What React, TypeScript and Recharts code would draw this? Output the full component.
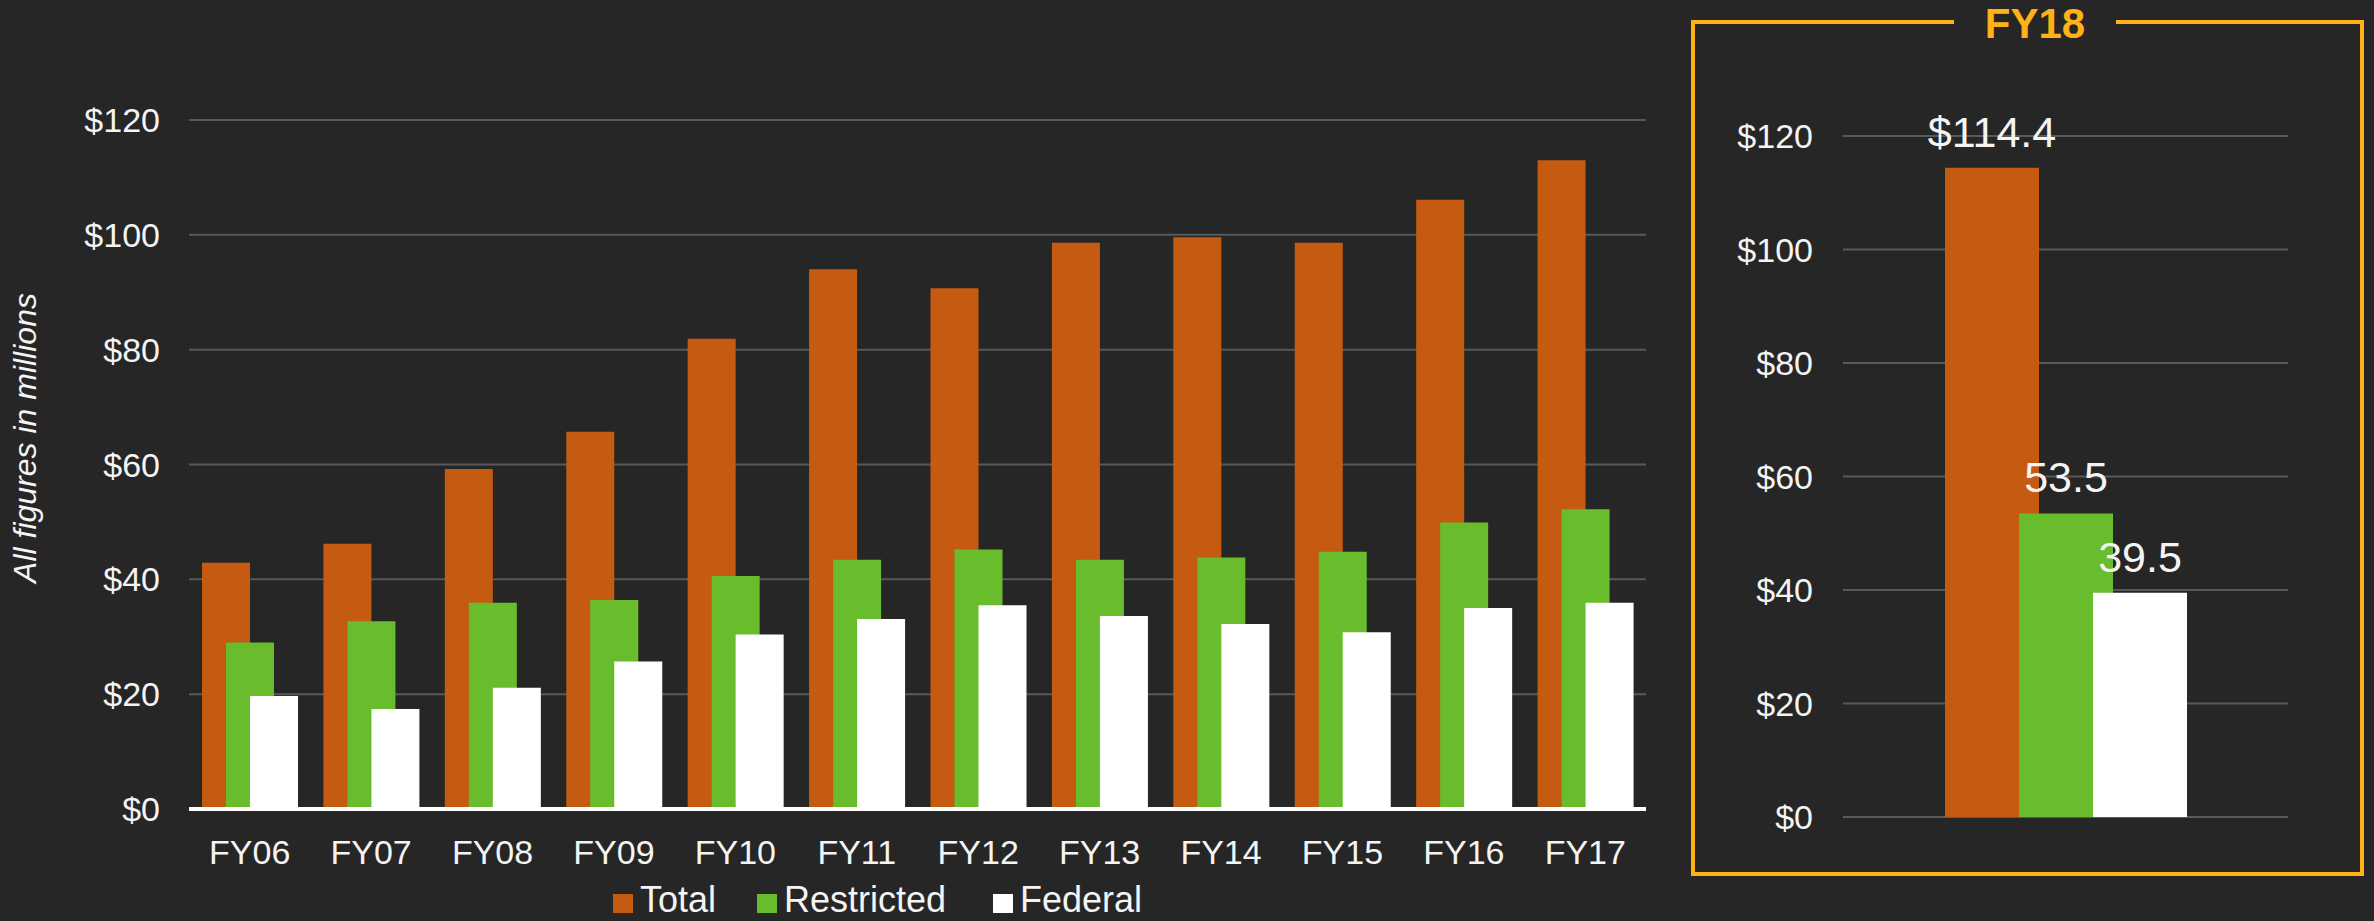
import { BarChart, Bar, XAxis, YAxis, CartesianGrid, LabelList } from 'recharts';

// Values (in $ millions)
const years = ['FY06', 'FY07', 'FY08', 'FY09', 'FY10', 'FY11', 'FY12', 'FY13', 'FY14', 'FY15', 'FY16', 'FY17'];
const totalValues = [42.9, 46.2, 59.2, 65.7, 81.9, 94.0, 90.7, 98.6, 99.6, 98.6, 106.1, 113.0];
const restrictedValues = [29.0, 32.7, 35.9, 36.4, 40.6, 43.4, 45.2, 43.4, 43.8, 44.8, 49.9, 52.2];
const federalValues = [19.7, 17.4, 21.1, 25.7, 30.4, 33.1, 35.5, 33.6, 32.2, 30.8, 35.0, 35.9];

const fy18Name = 'FY18';
const fy18Total = 114.4;
const fy18Restricted = 53.5;
const fy18Federal = 39.5;

const yTicks = [0, 20, 40, 60, 80, 100, 120];
const seriesNames = ['Total', 'Restricted', 'Federal'];
const yAxisTitle = 'All figures in millions';

const BG = '#262626';
const GRID = '#595959';
const TEXT = '#f4f4f4';
const AMBER = '#ffb218';
const seriesColors = ['#c55a11', '#69bc2b', '#ffffff'];
const FONT = '"Liberation Sans", Arial, sans-serif';

const history = years.map((year, i) => ({
  year,
  total: totalValues[i],
  restricted: restrictedValues[i],
  federal: federalValues[i],
}));

const latest = [{ year: fy18Name, total: fy18Total, restricted: fy18Restricted, federal: fy18Federal }];

const dollar = (v: number) => `$${v}`;

function Legend() {
  const lefts = [613, 757, 993];
  return (
    <>
      {seriesNames.map((name, i) => (
        <div
          key={name}
          style={{ position: 'absolute', left: lefts[i], top: 882, display: 'flex', alignItems: 'flex-start', whiteSpace: 'nowrap' }}
        >
          <span style={{ width: 20, height: 19, background: seriesColors[i], display: 'inline-block', marginRight: 7, marginTop: 12 }} />
          <span style={{ fontSize: 36, color: TEXT, lineHeight: '36px' }}>{name}</span>
        </div>
      ))}
    </>
  );
}

export default function App() {
  const tick = { fill: TEXT, fontSize: 34, fontFamily: FONT };
  return (
    <div style={{ position: 'fixed', left: 0, top: 0, width: 2374, height: 921, background: BG, overflow: 'hidden', fontFamily: FONT }}>
      {/* history chart */}
      <div style={{ position: 'absolute', left: 0, top: 0 }}>
        <BarChart
          width={1700}
          height={921}
          data={history}
          margin={{ top: 120, right: 54, bottom: 0, left: 0 }}
          barSize={48}
          barGap={-24}
        >
          <CartesianGrid vertical={false} stroke={GRID} strokeWidth={2} />
          <XAxis
            dataKey="year"
            height={112}
            tickLine={false}
            tickSize={0}
            tickMargin={31}
            axisLine={{ stroke: '#ffffff', strokeWidth: 4 }}
            tick={tick}
            interval={0}
          />
          <YAxis
            width={189}
            domain={[0, 120]}
            ticks={yTicks}
            tickFormatter={dollar}
            axisLine={false}
            tickLine={false}
            tickSize={0}
            tickMargin={29}
            tick={tick}
          />
          <Bar dataKey="total" fill={seriesColors[0]} isAnimationActive={false} />
          <Bar dataKey="restricted" fill={seriesColors[1]} isAnimationActive={false} />
          <Bar dataKey="federal" fill={seriesColors[2]} isAnimationActive={false} />
        </BarChart>
      </div>

      <div
        style={{
          position: 'absolute',
          left: 25,
          top: 438,
          transform: 'translate(-50%, -50%) rotate(-90deg)',
          whiteSpace: 'nowrap',
          fontStyle: 'italic',
          fontSize: 32,
          color: TEXT,
        }}
      >
        {yAxisTitle}
      </div>

      <Legend />

      {/* FY18 panel */}
      <div
        style={{
          position: 'absolute',
          left: 1691,
          top: 20,
          width: 2364 - 1691 - 8,
          height: 876 - 20 - 8,
          border: `4px solid ${AMBER}`,
        }}
      />
      <div
        style={{
          position: 'absolute',
          left: 1954,
          top: 0,
          width: 162,
          height: 48,
          background: BG,
          color: AMBER,
          fontWeight: 'bold',
          fontSize: 42,
          textAlign: 'center',
          lineHeight: '48px',
        }}
      >
        {fy18Name}
      </div>
      <div style={{ position: 'absolute', left: 1700, top: 0 }}>
        <BarChart
          width={620}
          height={921}
          data={latest}
          margin={{ top: 136, right: 32, bottom: 104, left: 0 }}
          barSize={94}
          barGap={-20}
        >
          <CartesianGrid vertical={false} stroke={GRID} strokeWidth={2} />
          <XAxis dataKey="year" hide />
          <YAxis
            width={143}
            domain={[0, 120]}
            ticks={yTicks}
            tickFormatter={dollar}
            axisLine={false}
            tickLine={false}
            tickSize={0}
            tickMargin={30}
            tick={tick}
          />
          <Bar dataKey="total" fill={seriesColors[0]} isAnimationActive={false}>
            <LabelList dataKey="total" position="top" offset={21} formatter={dollar} fill={TEXT} fontSize={43} fontFamily={FONT} />
          </Bar>
          <Bar dataKey="restricted" fill={seriesColors[1]} isAnimationActive={false}>
            <LabelList dataKey="restricted" position="top" offset={21} fill={TEXT} fontSize={43} fontFamily={FONT} />
          </Bar>
          <Bar dataKey="federal" fill={seriesColors[2]} isAnimationActive={false}>
            <LabelList dataKey="federal" position="top" offset={21} fill={TEXT} fontSize={43} fontFamily={FONT} />
          </Bar>
        </BarChart>
      </div>
    </div>
  );
}
